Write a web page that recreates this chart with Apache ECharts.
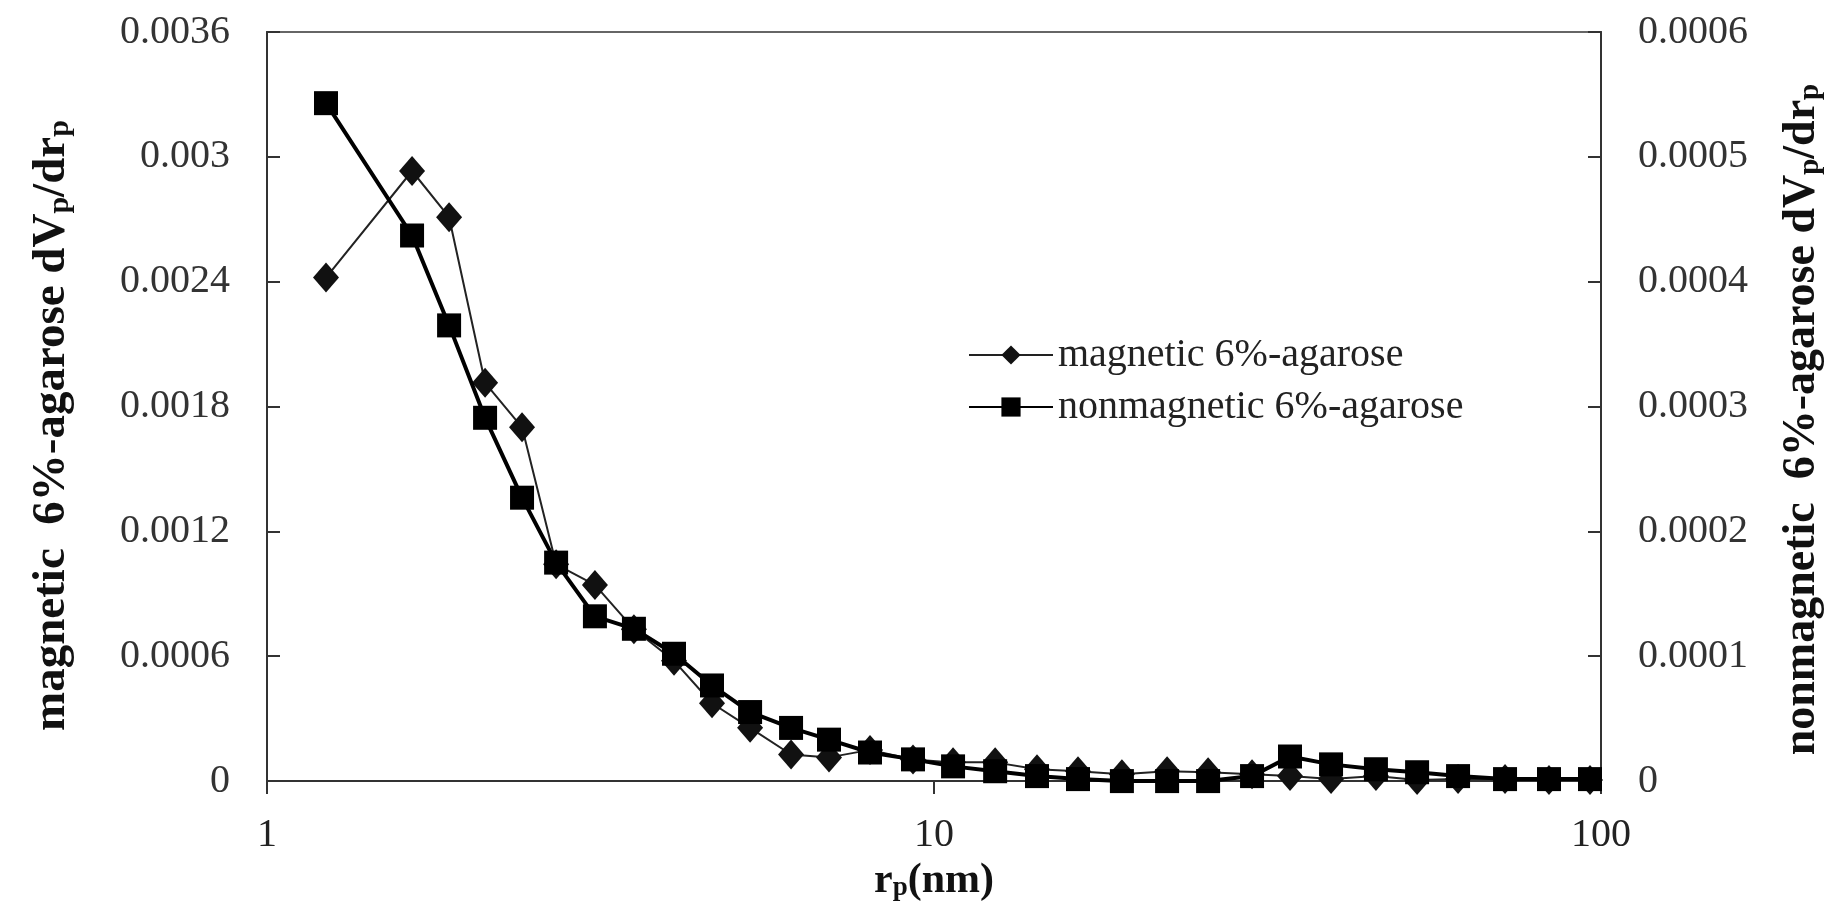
<!DOCTYPE html>
<html>
<head>
<meta charset="utf-8">
<script src="https://cdn.jsdelivr.net/npm/echarts@6/dist/echarts.min.js"></script>
<style>
  html, body { margin: 0; padding: 0; background: #fff; }
  #main { width: 1839px; height: 907px; }
</style>
</head>
<body>
<div id="main"></div>
<script>
// pore radius rp (nm), shared by both series
var rp = [1.226, 1.650, 1.875, 2.123, 2.412, 2.713, 3.102, 3.549, 4.076, 4.647,
  5.300, 6.105, 6.960, 8.018, 9.301, 10.68, 12.35, 14.27, 16.44, 19.13,
  22.36, 25.76, 29.98, 34.18, 39.38, 45.98, 53.00, 61.05, 71.80, 83.56, 96.27];

// magnetic 6%-agarose, left axis
var magnetic = [0.00242, 0.002932, 0.00271, 0.001914, 0.0017, 0.001042, 0.000943, 0.00073, 0.000578, 0.000374,
  0.000256, 0.000128, 0.000114, 0.00015, 0.000104, 0.00009, 0.00009, 0.000057, 0.000047, 0.000033,
  0.000047, 0.000043, 0.000033, 0.000024, 0.00001, 0.000024, 0.000005, 0.00001, 0.00001, 0.000005, 0.000005];

// nonmagnetic 6%-agarose, right axis
var nonmagnetic = [0.000543, 0.000437, 0.000365, 0.000291, 0.000227, 0.000175, 0.000132, 0.000122, 0.000102, 0.0000766,
  0.0000553, 0.0000426, 0.0000332, 0.0000229, 0.0000174, 0.0000118, 0.0000079, 0.000004, 0.0000016, 0,
  0, 0, 0.000004, 0.0000197, 0.0000134, 0.0000095, 0.0000071, 0.000004, 0.0000016, 0.0000016, 0.0000016];

var seriesNames = ['magnetic 6%-agarose', 'nonmagnetic 6%-agarose'];

function pairs(ys) {
  return ys.map(function (y, i) { return [rp[i], y]; });
}

function fmt(v) {
  return v === 0 ? '0' : String(+v.toFixed(4));
}

var serif = '"Liberation Serif", "DejaVu Serif", serif';

// rich text for axis titles, s = subscript
function titleRich(size, subSize, tail) {
  return {
    b: { fontFamily: serif, fontWeight: 'bold', fontSize: size, color: '#111' },
    s: { fontFamily: serif, fontWeight: 'bold', fontSize: subSize, color: '#111', verticalAlign: 'bottom', padding: [Math.round(size * 0.33), 0, 0, 0] },
    e: { fontFamily: serif, fontWeight: 'bold', fontSize: subSize, color: '#111', verticalAlign: 'bottom', padding: [Math.round(size * 0.33), tail, 0, 0] }
  };
}

var chart = echarts.init(document.getElementById('main'));

var option = {
  animation: false,
  backgroundColor: '#fff',
  grid: {
    left: 267, right: 238, top: 32, bottom: 115,
    show: true, borderColor: '#666', borderWidth: 2
  },
  legend: {
    orient: 'vertical',
    left: 963, top: 330,
    itemWidth: 84, itemHeight: 24, itemGap: 12,
    textStyle: { fontFamily: serif, fontSize: 40, color: '#222' },
    data: seriesNames
  },
  xAxis: {
    type: 'log',
    logBase: 10,
    min: 1, max: 100,
    name: '{b|r}{s|p}{b|(nm)}',
    nameLocation: 'middle',
    nameGap: 68,
    nameTextStyle: { rich: titleRich(42, 27, 0) },
    axisLine: { lineStyle: { color: '#333', width: 2 } },
    axisTick: { inside: false, length: 13, lineStyle: { color: '#333', width: 2 } },
    minorTick: { show: false },
    splitLine: { show: false },
    axisLabel: { fontFamily: serif, fontSize: 40, color: '#222', margin: 34 }
  },
  yAxis: [{
    type: 'value',
    min: 0, max: 0.0036, interval: 0.0006,
    name: '{b|magnetic  6%-agarose dV}{s|p}{b|/dr}{e|p}',
    nameLocation: 'middle',
    nameRotate: 90,
    nameGap: 192,
    nameTextStyle: { rich: titleRich(47, 30, 38) },
    axisLine: { show: true, lineStyle: { color: '#333', width: 2 } },
    axisTick: { show: true, inside: true, length: 13, lineStyle: { color: '#333', width: 2 } },
    splitLine: { show: false },
    axisLabel: { fontFamily: serif, fontSize: 40, color: '#333', margin: 37, formatter: fmt }
  }, {
    type: 'value',
    position: 'right',
    min: 0, max: 0.0006, interval: 0.0001,
    name: '{b|nonmagnetic  6%-agarose dV}{s|p}{b|/dr}{e|p}',
    nameLocation: 'middle',
    nameRotate: 90,
    nameGap: 178,
    nameTextStyle: { rich: titleRich(46, 29, 26) },
    axisLine: { show: true, lineStyle: { color: '#333', width: 2 } },
    axisTick: { show: true, inside: true, length: 13, lineStyle: { color: '#333', width: 2 } },
    splitLine: { show: false },
    axisLabel: { fontFamily: serif, fontSize: 40, color: '#333', margin: 37, formatter: fmt }
  }],
  series: [{
    name: seriesNames[0],
    type: 'line',
    yAxisIndex: 0,
    data: pairs(magnetic),
    symbol: 'diamond',
    symbolSize: [26, 30],
    itemStyle: { color: '#111' },
    lineStyle: { color: '#222', width: 2 },
    z: 2
  }, {
    name: seriesNames[1],
    type: 'line',
    yAxisIndex: 1,
    data: pairs(nonmagnetic),
    symbol: 'rect',
    symbolSize: 24,
    itemStyle: { color: '#000' },
    lineStyle: { color: '#000', width: 4 },
    z: 3
  }]
};

chart.setOption(option);
</script>
</body>
</html>
